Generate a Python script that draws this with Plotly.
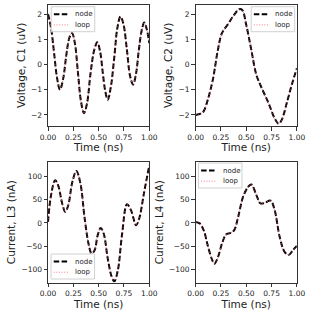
import plotly.graph_objects as go

# ---- data ----
t_c1 = [0.0, 0.03, 0.06, 0.09, 0.118, 0.15, 0.18, 0.21, 0.237, 0.265, 0.295, 0.325, 0.355,
        0.385, 0.42, 0.455, 0.486, 0.515, 0.54, 0.565, 0.59, 0.62, 0.655, 0.685, 0.716,
        0.745, 0.78, 0.81, 0.84, 0.87, 0.895, 0.925, 0.95, 0.975, 1.0]
v_c1 = [2.0, 1.45, 0.45, -0.55, -1.0, -0.55, 0.35, 1.05, 1.24, 0.85, -0.3, -1.45, -1.93,
        -1.55, -0.35, 0.55, 0.88, 0.5, -0.3, -1.05, -1.4, -0.9, 0.3, 1.45, 1.9,
        1.6, 0.55, -0.45, -0.8, -0.35, 0.5, 1.35, 1.66, 1.4, 0.85]

t_c2 = [0.0, 0.05, 0.08, 0.12, 0.17, 0.22, 0.26, 0.32, 0.38, 0.43, 0.46, 0.5, 0.55,
        0.6, 0.66, 0.72, 0.78, 0.82, 0.85, 0.9, 0.95, 1.0]
v_c2 = [-2.0, -1.95, -1.85, -1.4, -0.6, 0.58, 1.24, 1.6, 1.97, 2.19, 2.16, 1.57, 0.58,
        -0.41, -1.0, -1.53, -2.13, -2.35, -2.2, -1.53, -0.8, -0.15]

t_l3 = [0.0, 0.03, 0.07, 0.1, 0.14, 0.17, 0.2, 0.24, 0.28, 0.32, 0.36, 0.4, 0.43, 0.46,
        0.49, 0.52, 0.55, 0.59, 0.63, 0.655, 0.69, 0.73, 0.78, 0.82, 0.87, 0.9, 0.95, 1.0]
v_l3 = [2, 60, 92, 81, 42, 24, 38, 88, 112, 85, 13, -45, -66, -59,
        -27, -11, -23, -77, -117, -126, -102, -27, 40, 27, -5, 9, 67, 124]

t_l4 = [0.0, 0.04, 0.08, 0.12, 0.16, 0.185, 0.22, 0.26, 0.3, 0.34, 0.38, 0.42, 0.47,
        0.52, 0.55, 0.6, 0.64, 0.68, 0.74, 0.78, 0.83, 0.88, 0.92, 0.96, 1.0]
v_l4 = [2, -1, -16, -49, -78, -88, -74, -45, -25, -22, -16, 13, 57,
        78, 83, 60, 42, 43, 48, 28, -30, -63, -69, -59, -50]

y_titles = ["Voltage, C1 (uV)", "Voltage, C2 (uV)", "Current, L3 (nA)", "Current, L4 (nA)"]
x_title = "Time (ns)"
legend_names = ["node", "loop"]
x_ticks = [0.0, 0.25, 0.5, 0.75, 1.0]
y_ticks_top = [-2, -1, 0, 1, 2]
y_ticks_bot = [-100, -50, 0, 50, 100]

W, H = 316, 310
FONT = "DejaVu Sans"
NODE_COLOR = "black"
LOOP_COLOR = "rgba(235,80,100,0.75)"
NODE_DASH = "5.5px,2.4px"
LOOP_DASH = "1px,1.65px"

# panel pixel boxes (left, right, top, bottom)
boxes = [(42.3, 149.3, 4.7, 126.0), (198.3, 305.3, 4.7, 126.0),
         (42.3, 149.3, 161.7, 282.7), (198.3, 305.3, 161.7, 282.7)]
# legend box top-left corners in pixels
legend_corners = [(45.7, 6.7), (257.0, 6.7), (45.5, 254.0), (201.3, 163.0)]
LEG_W, LEG_H = 46.0, 25.0

series = [(t_c1, v_c1), (t_c2, v_c2), (t_l3, v_l3), (t_l4, v_l4)]

fig = go.Figure()
layout = dict(width=W, height=H, margin=dict(l=0, r=0, t=0, b=0),
              paper_bgcolor="white", plot_bgcolor="white", showlegend=False,
              font=dict(family=FONT, color="#222"))
shapes, annotations = [], []


def px(x):
    return x / W


def py(y):
    return 1 - y / H


for i, ((tt, vv), (l, r, tp, bt)) in enumerate(zip(series, boxes)):
    n = i + 1
    xa = "x" if n == 1 else f"x{n}"
    ya = "y" if n == 1 else f"y{n}"
    fig.add_trace(go.Scatter(x=tt, y=vv, mode="lines", name=legend_names[0], xaxis=xa, yaxis=ya,
                             line=dict(color=NODE_COLOR, width=2, dash=NODE_DASH,
                                       shape="spline", smoothing=1.0)))
    fig.add_trace(go.Scatter(x=tt, y=vv, mode="lines", name=legend_names[1], xaxis=xa, yaxis=ya,
                             line=dict(color=LOOP_COLOR, width=1, dash=LOOP_DASH,
                                       shape="spline", smoothing=1.0)))
    axstyle = dict(showline=True, mirror=True, linecolor="#333", linewidth=1,
                   ticks="outside", ticklen=3.5, tickwidth=0.8, tickcolor="#333",
                   showgrid=False, zeroline=False, tickfont=dict(size=7.5, family=FONT, color="#222"))
    xkey = "xaxis" if n == 1 else f"xaxis{n}"
    ykey = "yaxis" if n == 1 else f"yaxis{n}"
    layout[xkey] = dict(domain=[px(l), px(r)], anchor=ya, range=[0, 1],
                        tickvals=x_ticks, tickformat=".2f",
                        title=dict(text=x_title, font=dict(size=10.5, family=FONT, color="#222"), standoff=2),
                        **axstyle)
    yr = [-2.44, 2.37] if n <= 2 else [-129, 132]
    yt = y_ticks_top if n <= 2 else y_ticks_bot
    layout[ykey] = dict(domain=[py(bt), py(tp)], anchor=xa, range=yr,
                        tickvals=yt,
                        title=dict(text=y_titles[i], font=dict(size=10.5, family=FONT, color="#222"), standoff=3),
                        **axstyle)

    # legend (frame, sample lines, labels)
    lx, ly = legend_corners[i]
    shapes.append(dict(type="rect", xref="paper", yref="paper",
                       x0=px(lx), x1=px(lx + LEG_W), y0=py(ly + LEG_H), y1=py(ly),
                       line=dict(color="#d0d0d0", width=1), fillcolor="rgba(255,255,255,0.8)",
                       layer="above"))
    for k, (col, dash, wdt) in enumerate([(NODE_COLOR, NODE_DASH, 2), (LOOP_COLOR, LOOP_DASH, 1)]):
        yy = ly + 7.6 + k * 10.6
        shapes.append(dict(type="line", xref="paper", yref="paper",
                           x0=px(lx + 2.8), x1=px(lx + 17.8), y0=py(yy), y1=py(yy),
                           line=dict(color=col, width=wdt, dash=dash), layer="above"))
        annotations.append(dict(text=legend_names[k], xref="paper", yref="paper",
                                x=px(lx + 23.5), y=py(yy), xanchor="left", yanchor="middle",
                                showarrow=False, font=dict(size=7, family=FONT, color="#222")))

layout["shapes"] = shapes
layout["annotations"] = annotations
fig.update_layout(**layout)
fig.write_html("out.html", config={"displayModeBar": False},
               post_script="document.body.style.margin='0';document.body.style.overflow='hidden';")
